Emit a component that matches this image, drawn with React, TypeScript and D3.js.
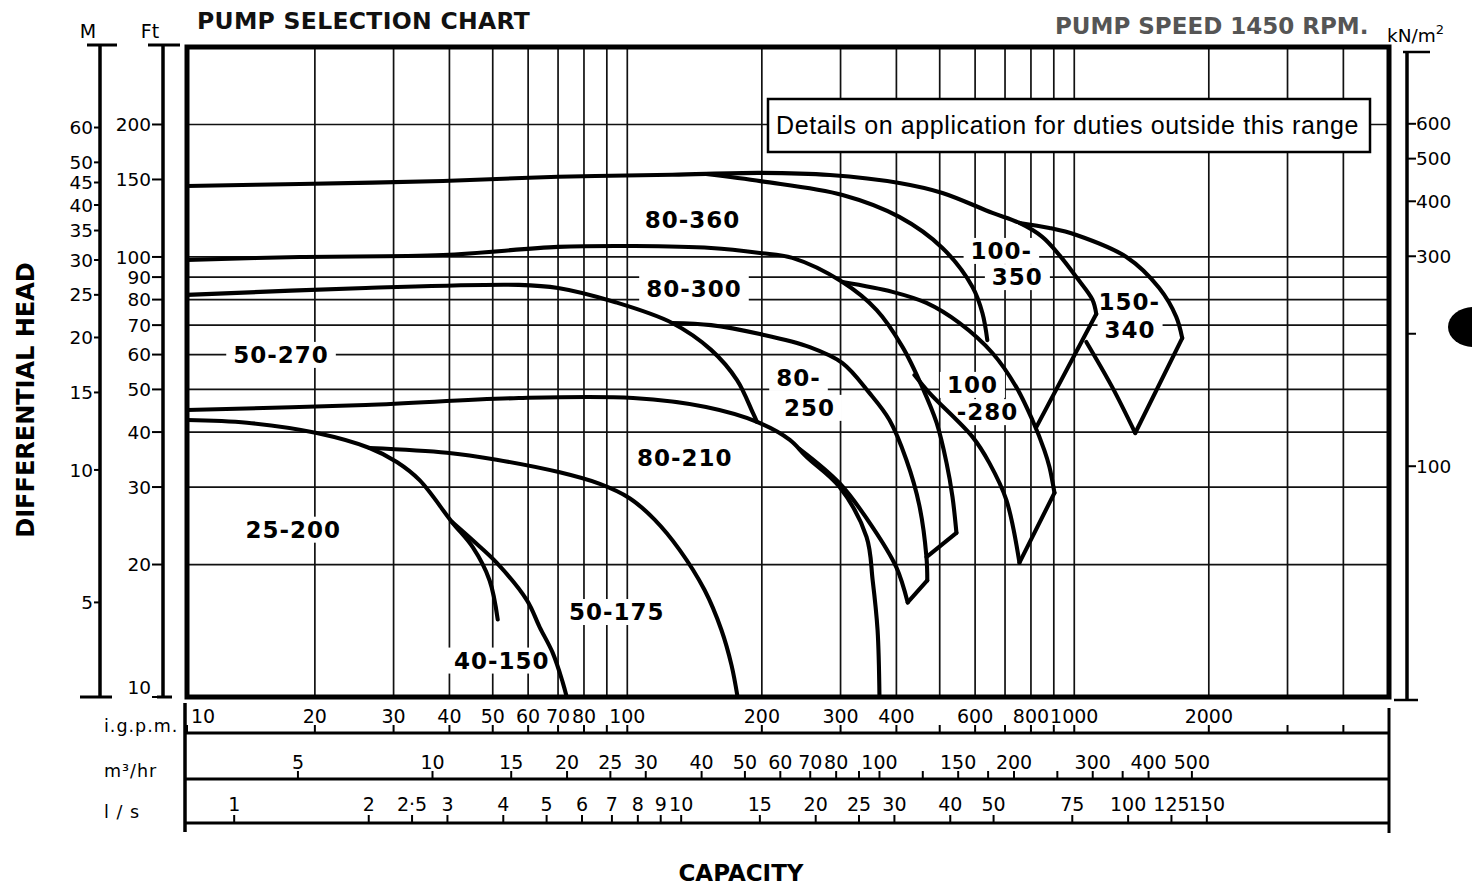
import * as d3 from "d3";

// ---- axis ticks / labels ----
const IGPM_GRID = [20, 30, 40, 50, 60, 70, 80, 90, 100, 200, 300, 400, 500, 600, 700, 800, 900, 1000, 2000, 3000, 4000];
const FT_GRID = [20, 30, 40, 50, 60, 70, 80, 90, 100, 200];
const FT_TICKS = [200, 150, 100, 90, 80, 70, 60, 50, 40, 30, 20, 10];
const M_TICKS = [60, 50, 45, 40, 35, 30, 25, 20, 15, 10, 5];
const KN_TICKS = [600, 500, 400, 300, 200, 100];
const KN_LABELS = [600, 500, 400, 300, 100];
const IGPM_TICKS = [10, 20, 30, 40, 50, 60, 70, 80, 90, 100, 200, 300, 400, 500, 600, 700, 800, 900, 1000, 2000, 3000, 4000];
const IGPM_LABELS = [10, 20, 30, 40, 50, 60, 70, 80, 100, 200, 300, 400, 600, 800, 1000, 2000];
const M3H_TICKS = [5, 10, 15, 20, 25, 30, 40, 50, 60, 70, 80, 90, 100, 125, 150, 175, 200, 250, 300, 350, 400, 500];
const M3H_LABELS = [5, 10, 15, 20, 25, 30, 40, 50, 60, 70, 80, 100, 150, 200, 300, 400, 500];
const LPS_TICKS = [1, 2, 2.5, 3, 4, 5, 6, 7, 8, 9, 10, 15, 20, 25, 30, 40, 50, 75, 100, 125, 150];

// unit conversions (everything is plotted in igpm / feet)
const M3H_TO_IGPM = 3.666;
const LPS_TO_IGPM = 13.198;
const M_TO_FT = 3.2808;
const KN_TO_FT = 0.33455;

// ---- pump curves: [igpm, ft] ----
const TOP_100_350 = [[10.35, 145], [18.5, 146.5], [38.7, 148.8], [70, 152.1], [126, 153.7], [198, 155.3], [284, 153.6], [406, 147.3], [507, 139.8], [656, 125.9], [754, 119.5], [848, 111.1], [926, 101], [1011, 90], [1098, 80], [1120, 74.2]];
const SIDE_100_350 = [[1120, 74.2], [823, 41.1]];
const MAX_80_360 = [[150, 154.3], [200, 148.5], [303, 138.3], [406, 123.3], [507, 104.8], [592, 85.5], [623, 74.6], [639, 64.7]];
const MAX_80_300 = [[10.35, 98.4], [18.5, 100], [38.7, 101], [70, 105.4], [104, 105.9], [154, 104.8], [198, 102.1], [234, 99.5], [303, 87.7], [361, 75.8], [413, 62.4], [457, 50.6], [492, 42], [518, 34], [534, 28.5], [545, 23.6]];
const SIDE_80_300 = [[545, 23.6], [467, 20.8]];
const MAX_50_270 = [[10.35, 82], [26, 85], [57.2, 86.4], [70, 85], [93.7, 79], [126, 70.8], [154, 61.5], [176, 52.5], [191, 44.2], [195, 42.2]];
const MAX_80_250 = [[126, 70.8], [154, 70], [198, 66.8], [256, 62.4], [303, 57.4], [348, 49.1], [386, 42.6], [421, 34.6], [450, 27.3], [467, 20.8], [469, 18.4]];
const SIDE_80_250 = [[469, 18.4], [424, 16.4]];
const MIN_80_250 = [[243, 36.6], [298.5, 30.6], [354, 24.3], [400, 19.7], [424, 16.4]];
const MAX_80_210 = [[10.35, 44.9], [26, 46.1], [57.2, 47.8], [103, 47.8], [150, 45.6], [195, 42.2], [231, 38.4], [252, 35.1], [298.5, 30], [343, 23.1], [354, 18.4], [363, 14.2], [366.6, 10]];
const MAX_100_280 = [[303, 87.7], [392, 83.3], [467, 78.6], [553, 70.8], [656, 60.5], [742, 50.6], [806, 42.6], [857, 36.4], [880, 33.3], [903, 29.1]];
const SIDE_100_280 = [[903, 29.1], [754, 20.2]];
const MIN_100_280 = [[754, 20.2], [705, 28], [646, 34], [592, 39], [474, 49.1], [439, 53.9]];
const MAX_150_340 = [[754, 119.5], [880, 116.4], [1011, 112.2], [1308, 100], [1549, 85], [1691, 73.1], [1744, 65.4]];
const SIDE_150_340 = [[1744, 65.4], [1369, 39.8]];
const MIN_150_340 = [[1369, 39.8], [1216, 50.6], [1064, 64.1]];
const MAX_50_175 = [[26.5, 36.8], [39.5, 35.9], [51, 34.6], [70.6, 32.4], [86.8, 30.5], [101.2, 28.3], [115.1, 25.3], [130.9, 21.6], [148.9, 17.5], [162.4, 14.2], [171.1, 11.8], [176.5, 10]];
const MAX_25_200 = [[10.35, 42.6], [14.1, 42], [20.2, 39.8], [26.5, 36.8], [30.5, 34.2], [34.3, 31.1], [40.5, 25], [45.1, 21.9], [49.2, 18.4], [51.3, 15]];
const MAX_40_150 = [[40.5, 25], [45.1, 22.7], [51, 20.2], [59.6, 16.6], [63.7, 14.4], [68.1, 12.6], [71.7, 10.8], [73.2, 10]];

// pump model labels: [text, igpm, ft]
const PUMP_LABELS: [string, number, number][] = [
  ["80-360", 140, 121.4],
  ["80-300", 141, 84.6],
  ["50-270", 16.8, 59.9],
  ["80-210", 134.4, 34.9],
  ["25-200", 17.9, 24.0],
  ["50-175", 94.7, 15.6],
  ["40-150", 52.4, 12.1],
  ["80-", 241.6, 53.1],
  ["250", 255.6, 45.4],
  ["100", 591.8, 51.2],
  ["-280", 639.4, 44.4],
  ["100-", 687, 103.2],
  ["350", 746, 90],
  ["150-", 1328, 79.0],
  ["340", 1333, 68.3],
];

const W = 1472;
const H = 885;
const plot = { left: 187, right: 1389, top: 47, bottom: 697 };
const FONT = "'DejaVu Sans', sans-serif";
const LABEL_SIZE = 23;
const LABEL_SPACING = 1;

const x = d3.scaleLog().domain([10.35, 5060]).range([plot.left, plot.right]).clamp(true);
const y = d3.scaleLog().domain([10, 300]).range([plot.bottom, plot.top]);

const smooth = d3
  .line<number[]>()
  .x((d) => x(d[0]))
  .y((d) => y(d[1]))
  .curve(d3.curveCatmullRom.alpha(0.5));
const straight = d3
  .line<number[]>()
  .x((d) => x(d[0]))
  .y((d) => y(d[1]));

const CURVES: [number[][], boolean][] = [
  [TOP_100_350, true], [SIDE_100_350, false], [MAX_80_360, true],
  [MAX_80_300, true], [SIDE_80_300, false], [MAX_50_270, true],
  [MAX_80_250, true], [SIDE_80_250, false], [MIN_80_250, true],
  [MAX_80_210, true], [MAX_100_280, true], [SIDE_100_280, false],
  [MIN_100_280, true], [MAX_150_340, true], [SIDE_150_340, false],
  [MIN_150_340, true], [MAX_50_175, true], [MAX_25_200, true],
  [MAX_40_150, true],
];

const BANDS = [
  { name: "i.g.p.m.", ticks: IGPM_TICKS, labels: IGPM_LABELS, factor: 1, lineY: 733, labelY: 723, nameY: 732 },
  { name: "m³/hr", ticks: M3H_TICKS, labels: M3H_LABELS, factor: M3H_TO_IGPM, lineY: 779, labelY: 769, nameY: 777 },
  { name: "l / s", ticks: LPS_TICKS, labels: LPS_TICKS, factor: LPS_TO_IGPM, lineY: 823, labelY: 811, nameY: 818 },
];

// rough width of a bold label (DejaVu Sans Bold metrics)
const labelWidth = (t: string) =>
  t.split("").reduce((s, c) => s + (c === "-" ? 0.415 : 0.696) * LABEL_SIZE + LABEL_SPACING, 0);

export default function App() {
  return (
    <div style={{ position: "absolute", left: 0, top: 0 }}>
      <svg width={W} height={H} style={{ display: "block", background: "#fff" }} fontFamily={FONT}>
        <rect width={W} height={H} fill="#fff" />

        {/* grid */}
        <g stroke="#111" strokeWidth={1.7}>
          {IGPM_GRID.map((v) => (
            <line key={"gx" + v} x1={x(v)} x2={x(v)} y1={plot.top} y2={plot.bottom} />
          ))}
          {FT_GRID.map((v) => (
            <line key={"gy" + v} x1={plot.left} x2={plot.right} y1={y(v)} y2={y(v)} />
          ))}
        </g>

        {/* pump labels on white patches that break the grid */}
        <g fontWeight="bold" fontSize={LABEL_SIZE} textAnchor="middle" letterSpacing={LABEL_SPACING}>
          {PUMP_LABELS.map(([t, q, h]) => {
            const w = labelWidth(t);
            return (
              <g key={t + q}>
                <rect x={x(q) - w / 2 - 7} y={y(h) - 13} width={w + 14} height={26} fill="#fff" />
                <text x={x(q)} y={y(h)} dy="0.36em" fill="#000">
                  {t}
                </text>
              </g>
            );
          })}
        </g>

        {/* pump curves */}
        <g fill="none" stroke="#000" strokeWidth={4.1} strokeLinecap="round" strokeLinejoin="round">
          {CURVES.map(([pts, isSmooth], i) => (
            <path key={"c" + i} d={(isSmooth ? smooth(pts) : straight(pts)) || ""} />
          ))}
        </g>

        {/* plot frame */}
        <rect x={plot.left} y={plot.top} width={plot.right - plot.left} height={plot.bottom - plot.top} fill="none" stroke="#000" strokeWidth={5} />

        {/* note box */}
        <rect x={768} y={99} width={602} height={53} fill="#fff" stroke="#000" strokeWidth={2.5} />
        <text x={776} y={134} fontFamily="'Liberation Sans', Arial, sans-serif" fontSize={25} letterSpacing={0.6} fill="#000">
          Details on application for duties outside this range
        </text>

        {/* titles */}
        <text x={197} y={29} fontWeight="bold" fontSize={23.5} letterSpacing={0.3} fill="#111">PUMP SELECTION CHART</text>
        <text x={1055} y={34} fontWeight="bold" fontSize={23} fill="#555">PUMP SPEED 1450 RPM.</text>
        <text x={88} y={38} fontSize={19} textAnchor="middle">M</text>
        <text x={150} y={38} fontSize={19} textAnchor="middle">Ft</text>
        <text x={1387} y={42} fontSize={18.5}>
          kN/m<tspan dy={-8} fontSize={13}>2</tspan>
        </text>
        <text transform="translate(25,400) rotate(-90)" textAnchor="middle" dy="0.36em" fontWeight="bold" fontSize={24}>
          DIFFERENTIAL HEAD
        </text>
        <text x={741} y={881} textAnchor="middle" fontWeight="bold" fontSize={23}>CAPACITY</text>

        {/* metres axis */}
        <g stroke="#000">
          <line x1={100} x2={100} y1={45} y2={697} strokeWidth={3.5} />
          <line x1={87} x2={117} y1={45} y2={45} strokeWidth={3} />
          <line x1={80} x2={112} y1={697} y2={697} strokeWidth={3} />
          {M_TICKS.map((v) => (
            <line key={"mt" + v} x1={94} x2={100} y1={y(v * M_TO_FT)} y2={y(v * M_TO_FT)} strokeWidth={2} />
          ))}
        </g>
        <g fontSize={18.5} textAnchor="end">
          {M_TICKS.map((v) => (
            <text key={"ml" + v} x={93} y={y(v * M_TO_FT)} dy="0.36em">{v}</text>
          ))}
        </g>

        {/* feet axis */}
        <g stroke="#000">
          <line x1={163} x2={163} y1={45} y2={697} strokeWidth={3.5} />
          <line x1={148} x2={180} y1={45} y2={45} strokeWidth={3} />
          <line x1={157} x2={172} y1={697} y2={697} strokeWidth={3} />
          {FT_TICKS.map((v) => (
            <line key={"ft" + v} x1={152} x2={163} y1={y(v)} y2={y(v)} strokeWidth={2} />
          ))}
        </g>
        <g fontSize={18.5} textAnchor="end">
          {FT_TICKS.map((v) => (
            <text key={"fl" + v} x={151} y={y(v) - (v === 10 ? 10 : 0)} dy="0.36em">{v}</text>
          ))}
        </g>

        {/* kN/m2 axis */}
        <g stroke="#000">
          <line x1={1407} x2={1407} y1={52} y2={700} strokeWidth={3.5} />
          <line x1={1403} x2={1430} y1={52} y2={52} strokeWidth={2.5} />
          <line x1={1394} x2={1418} y1={700} y2={700} strokeWidth={2.5} />
          {KN_TICKS.map((v) => (
            <line key={"kt" + v} x1={1407} x2={1416} y1={y(v * KN_TO_FT)} y2={y(v * KN_TO_FT)} strokeWidth={2} />
          ))}
        </g>
        <g fontSize={18.5}>
          {KN_LABELS.map((v) => (
            <text key={"kl" + v} x={1416} y={y(v * KN_TO_FT)} dy="0.36em">{v}</text>
          ))}
        </g>
        <ellipse cx={1474} cy={327} rx={26} ry={20} fill="#000" />

        {/* capacity bands */}
        <g stroke="#000">
          <line x1={185} x2={185} y1={703} y2={832} strokeWidth={3.5} />
          <line x1={1389} x2={1389} y1={708} y2={833} strokeWidth={3} />
          {BANDS.map((b) => (
            <g key={"bl" + b.name}>
              <line x1={185} x2={1389} y1={b.lineY} y2={b.lineY} strokeWidth={3} />
              {b.ticks.map((v) => (
                <line key={v} x1={x(v * b.factor)} x2={x(v * b.factor)} y1={b.lineY - 8} y2={b.lineY} strokeWidth={2} />
              ))}
            </g>
          ))}
        </g>
        <g fontSize={19}>
          {BANDS.map((b) => (
            <g key={"bt" + b.name}>
              <text x={104} y={b.nameY} fontSize={17.5} letterSpacing={1}>{b.name}</text>
              {b.labels.map((v) => {
                const first = b.factor === 1 && v === 10;
                return (
                  <text key={v} x={first ? 191 : x(v * b.factor)} y={b.labelY} textAnchor={first ? "start" : "middle"}>
                    {v === 2.5 ? "2·5" : String(v)}
                  </text>
                );
              })}
            </g>
          ))}
        </g>
      </svg>
    </div>
  );
}
